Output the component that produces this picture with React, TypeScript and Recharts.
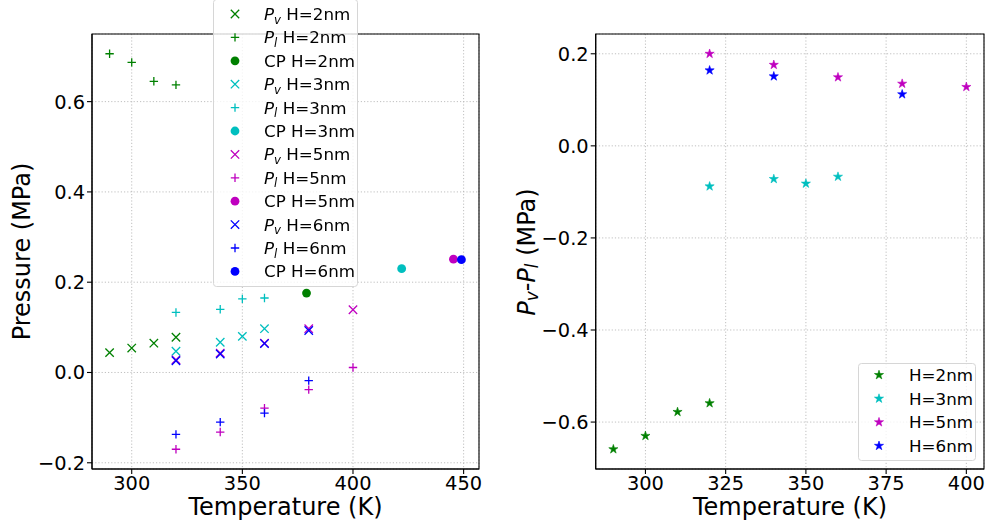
import React from 'react';
import { ScatterChart, Scatter, XAxis, YAxis, CartesianGrid, ReferenceArea, Legend, Label } from 'recharts';

const FONT = "'DejaVu Sans', sans-serif";
const GREEN = '#008000';
const CYAN = '#00bfbf';
const MAGENTA = '#bf00bf';
const BLUE = '#0000ff';

// ---- left panel data (Temperature K, Pressure MPa) ----
const temps2 = [290, 300, 310, 320];
const pv2 = [0.044, 0.054, 0.065, 0.078];
const pl2 = [0.706, 0.687, 0.645, 0.637];
const cp2T = [379];
const cp2P = [0.176];

const temps3 = [320, 340, 350, 360];
const pv3 = [0.047, 0.067, 0.080, 0.097];
const pl3 = [0.133, 0.140, 0.163, 0.165];
const cp3T = [422];
const cp3P = [0.230];

const temps5 = [320, 340, 360, 380, 400];
const pv5 = [0.028, 0.043, 0.065, 0.097, 0.139];
const pl5 = [-0.170, -0.132, -0.079, -0.038, 0.011];
const cp5T = [445.4];
const cp5P = [0.251];

const temps6 = [320, 340, 360, 380];
const pv6 = [0.026, 0.041, 0.064, 0.093];
const pl6 = [-0.137, -0.110, -0.090, -0.018];
const cp6T = [449];
const cp6P = [0.250];

// ---- right panel data (Pv - Pl) ----
const dT2 = [290, 300, 310, 320];
const dP2 = [-0.659, -0.630, -0.578, -0.559];
const dT3 = [320, 340, 350, 360];
const dP3 = [-0.088, -0.072, -0.082, -0.067];
const dT5 = [320, 340, 360, 380, 400];
const dP5 = [0.200, 0.176, 0.149, 0.135, 0.128];
const dT6 = [320, 340, 380];
const dP6 = [0.164, 0.151, 0.112];

const leftXTicks = [300, 350, 400, 450];
const leftYTicks = [-0.2, 0, 0.2, 0.4, 0.6];
const rightXTicks = [300, 325, 350, 375, 400];
const rightYTicks = [-0.6, -0.4, -0.2, 0, 0.2];

const pts = (xs: number[], ys: number[]) => xs.map((x, i) => ({ x, y: ys[i] }));

type Kind = 'x' | '+' | 'o' | '*';

function markerPath(kind: Kind, cx: number, cy: number, color: string) {
  const r = 4.2;
  if (kind === 'x') {
    return <path d={`M${cx - r},${cy - r}L${cx + r},${cy + r}M${cx - r},${cy + r}L${cx + r},${cy - r}`} stroke={color} strokeWidth={1.3} fill="none" />;
  }
  if (kind === '+') {
    return <path d={`M${cx - r},${cy}L${cx + r},${cy}M${cx},${cy - r}L${cx},${cy + r}`} stroke={color} strokeWidth={1.3} fill="none" />;
  }
  if (kind === 'o') {
    return <circle cx={cx} cy={cy} r={4.4} fill={color} />;
  }
  const ro = 4.8;
  const ri = ro * 0.382;
  const p: string[] = [];
  for (let i = 0; i < 10; i++) {
    const rr = i % 2 === 0 ? ro : ri;
    const a = -Math.PI / 2 + (i * Math.PI) / 5;
    p.push(`${(cx + rr * Math.cos(a)).toFixed(2)},${(cy + rr * Math.sin(a)).toFixed(2)}`);
  }
  return <polygon points={p.join(' ')} fill={color} stroke={color} strokeWidth={0.6} strokeLinejoin="miter" />;
}

const shape = (kind: Kind, color: string) => (props: any) => {
  const { cx, cy } = props;
  if (cx == null || cy == null) return <g />;
  return markerPath(kind, cx, cy, color);
};

type Series = { label: 'v' | 'l' | 'cp' | 'h'; h: string; kind: Kind; color: string; data: { x: number; y: number }[] };

const leftSeries: Series[] = [
  { label: 'v', h: '2', kind: 'x', color: GREEN, data: pts(temps2, pv2) },
  { label: 'l', h: '2', kind: '+', color: GREEN, data: pts(temps2, pl2) },
  { label: 'cp', h: '2', kind: 'o', color: GREEN, data: pts(cp2T, cp2P) },
  { label: 'v', h: '3', kind: 'x', color: CYAN, data: pts(temps3, pv3) },
  { label: 'l', h: '3', kind: '+', color: CYAN, data: pts(temps3, pl3) },
  { label: 'cp', h: '3', kind: 'o', color: CYAN, data: pts(cp3T, cp3P) },
  { label: 'v', h: '5', kind: 'x', color: MAGENTA, data: pts(temps5, pv5) },
  { label: 'l', h: '5', kind: '+', color: MAGENTA, data: pts(temps5, pl5) },
  { label: 'cp', h: '5', kind: 'o', color: MAGENTA, data: pts(cp5T, cp5P) },
  { label: 'v', h: '6', kind: 'x', color: BLUE, data: pts(temps6, pv6) },
  { label: 'l', h: '6', kind: '+', color: BLUE, data: pts(temps6, pl6) },
  { label: 'cp', h: '6', kind: 'o', color: BLUE, data: pts(cp6T, cp6P) },
];

const rightSeries: Series[] = [
  { label: 'h', h: '2', kind: '*', color: GREEN, data: pts(dT2, dP2) },
  { label: 'h', h: '3', kind: '*', color: CYAN, data: pts(dT3, dP3) },
  { label: 'h', h: '5', kind: '*', color: MAGENTA, data: pts(dT5, dP5) },
  { label: 'h', h: '6', kind: '*', color: BLUE, data: pts(dT6, dP6) },
];

const padDomain = (vals: number[]): [number, number] => {
  const mn = Math.min(...vals);
  const mx = Math.max(...vals);
  const d = (mx - mn) * 0.05;
  return [mn - d, mx + d];
};

const leftX = padDomain(leftSeries.flatMap((s) => s.data.map((d) => d.x)));
const leftY = padDomain(leftSeries.flatMap((s) => s.data.map((d) => d.y)));
const rightX = padDomain(rightSeries.flatMap((s) => s.data.map((d) => d.x)));
const rightY = padDomain(rightSeries.flatMap((s) => s.data.map((d) => d.y)));

const fmtY = (v: number) => (Math.abs(v) < 1e-9 ? '0.0' : v.toFixed(1).replace('-', '\u2212'));
const fmtX = (v: number) => String(v);

const TICK_FS = 19.4;
const LABEL_FS = 24;
const LEG_FS = 16.7;

function LegendLabel({ s, x, y }: { s: Series; x: number; y: number }) {
  const sub = LEG_FS * 0.7;
  if (s.label === 'cp') {
    return <text x={x} y={y} fontSize={LEG_FS} fontFamily={FONT} fill="#000" dominantBaseline="central">{`CP H=${s.h}nm`}</text>;
  }
  if (s.label === 'h') {
    return <text x={x} y={y} fontSize={LEG_FS} fontFamily={FONT} fill="#000" dominantBaseline="central">{`H=${s.h}nm`}</text>;
  }
  return (
    <text x={x} y={y + 6} fontSize={LEG_FS} fontFamily={FONT} fill="#000">
      <tspan fontStyle="italic">P</tspan>
      <tspan fontStyle="italic" fontSize={sub} dy={3.5}>{s.label}</tspan>
      <tspan dy={-3.5}>{` H=${s.h}nm`}</tspan>
    </text>
  );
}

function LegendBox({ series, w, h, first, step, mx, tx }: { series: Series[]; w: number; h: number; first: number; step: number; mx: number; tx: number }) {
  return (
    <svg width={w} height={h} style={{ display: 'block', overflow: 'visible' }}>
      <rect x={0.5} y={0.5} width={w - 1} height={h - 1} rx={3} ry={3} fill="#ffffff" fillOpacity={0.8} stroke="#d6d6d6" strokeWidth={1} />
      {series.map((s, i) => (
        <g key={i}>
          {markerPath(s.kind, mx, first + i * step, s.color)}
          <LegendLabel s={s} x={tx} y={first + i * step} />
        </g>
      ))}
    </svg>
  );
}

const gridProps = { stroke: '#b0b0b0', strokeDasharray: '1.2 2', strokeWidth: 0.8 };
const tickStyle = { fontSize: TICK_FS, fill: '#000', fontFamily: FONT };

export default function App() {
  return (
    <div style={{ position: 'fixed', left: 0, top: 0, width: 987, height: 526, background: '#fff', fontFamily: FONT }}>
      <div style={{ position: 'absolute', left: 0, top: 0 }}>
        <ScatterChart width={490} height={526} margin={{ top: 34, right: 11, bottom: 17, left: 22 }}>
          <CartesianGrid {...gridProps} />
          <XAxis
            type="number"
            dataKey="x"
            domain={leftX}
            allowDataOverflow
            ticks={leftXTicks}
            interval={0}
            tickFormatter={fmtX}
            height={40}
            tickSize={5}
            tickMargin={2}
            tick={tickStyle}
            stroke="#000"
            axisLine={{ stroke: '#000', strokeWidth: 1.1 }}
            tickLine={{ stroke: '#000', strokeWidth: 1.1 }}
          >
            <Label content={() => <text x={285.5} y={515} textAnchor="middle" fontSize={LABEL_FS} fontFamily={FONT} fill="#000">Temperature (K)</text>} />
          </XAxis>
          <YAxis
            type="number"
            dataKey="y"
            domain={leftY}
            allowDataOverflow
            ticks={leftYTicks}
            interval={0}
            tickFormatter={fmtY}
            width={70}
            tickSize={5}
            tickMargin={2}
            tick={tickStyle}
            stroke="#000"
            axisLine={{ stroke: '#000', strokeWidth: 1.1 }}
            tickLine={{ stroke: '#000', strokeWidth: 1.1 }}
          >
            <Label content={() => <text x={22} y={251.5} transform="rotate(-90 22 251.5)" textAnchor="middle" dominantBaseline="central" fontSize={LABEL_FS} fontFamily={FONT} fill="#000">Pressure (MPa)</text>} />
          </YAxis>
          <ReferenceArea x1={leftX[0]} x2={leftX[1]} y1={leftY[0]} y2={leftY[1]} fill="none" stroke="#000" strokeWidth={1.1} />
          {leftSeries.map((s, i) => (
            <Scatter key={i} data={s.data} shape={shape(s.kind, s.color)} isAnimationActive={false} />
          ))}
          <Legend
            layout="vertical"
            align="center"
            verticalAlign="middle"
            wrapperStyle={{ left: 213, top: -1, width: 145, height: 288 }}
            content={() => <LegendBox series={leftSeries} w={145} h={288} first={15} step={23.4} mx={22} tx={51} />}
          />
        </ScatterChart>
      </div>
      <div style={{ position: 'absolute', left: 490, top: 0 }}>
        <ScatterChart width={497} height={526} margin={{ top: 34, right: 3, bottom: 17, left: 35.7 }}>
          <CartesianGrid {...gridProps} />
          <XAxis
            type="number"
            dataKey="x"
            domain={rightX}
            allowDataOverflow
            ticks={rightXTicks}
            interval={0}
            tickFormatter={fmtX}
            height={40}
            tickSize={5}
            tickMargin={2}
            tick={tickStyle}
            stroke="#000"
            axisLine={{ stroke: '#000', strokeWidth: 1.1 }}
            tickLine={{ stroke: '#000', strokeWidth: 1.1 }}
          >
            <Label content={() => <text x={300} y={515} textAnchor="middle" fontSize={LABEL_FS} fontFamily={FONT} fill="#000">Temperature (K)</text>} />
          </XAxis>
          <YAxis
            type="number"
            dataKey="y"
            domain={rightY}
            allowDataOverflow
            ticks={rightYTicks}
            interval={0}
            tickFormatter={fmtY}
            width={70}
            tickSize={5}
            tickMargin={2}
            tick={tickStyle}
            stroke="#000"
            axisLine={{ stroke: '#000', strokeWidth: 1.1 }}
            tickLine={{ stroke: '#000', strokeWidth: 1.1 }}
          >
            <Label
              content={() => (
                <text x={37} y={252} transform="rotate(-90 37 252)" textAnchor="middle" dominantBaseline="central" fontSize={LABEL_FS} fontFamily={FONT} fill="#000">
                  <tspan fontStyle="italic">P</tspan>
                  <tspan fontStyle="italic" fontSize={LABEL_FS * 0.7} dy={5}>v</tspan>
                  <tspan dy={-5}>-</tspan>
                  <tspan fontStyle="italic">P</tspan>
                  <tspan fontStyle="italic" fontSize={LABEL_FS * 0.7} dy={5}>l</tspan>
                  <tspan dy={-5}> (MPa)</tspan>
                </text>
              )}
            />
          </YAxis>
          <ReferenceArea x1={rightX[0]} x2={rightX[1]} y1={rightY[0]} y2={rightY[1]} fill="none" stroke="#000" strokeWidth={1.1} />
          {rightSeries.map((s, i) => (
            <Scatter key={i} data={s.data} shape={shape(s.kind, s.color)} isAnimationActive={false} />
          ))}
          <Legend
            layout="vertical"
            align="center"
            verticalAlign="middle"
            wrapperStyle={{ left: 368, top: 363, width: 118, height: 98 }}
            content={() => <LegendBox series={rightSeries} w={118} h={98} first={12} step={23.6} mx={21} tx={51} />}
          />
        </ScatterChart>
      </div>
    </div>
  );
}
